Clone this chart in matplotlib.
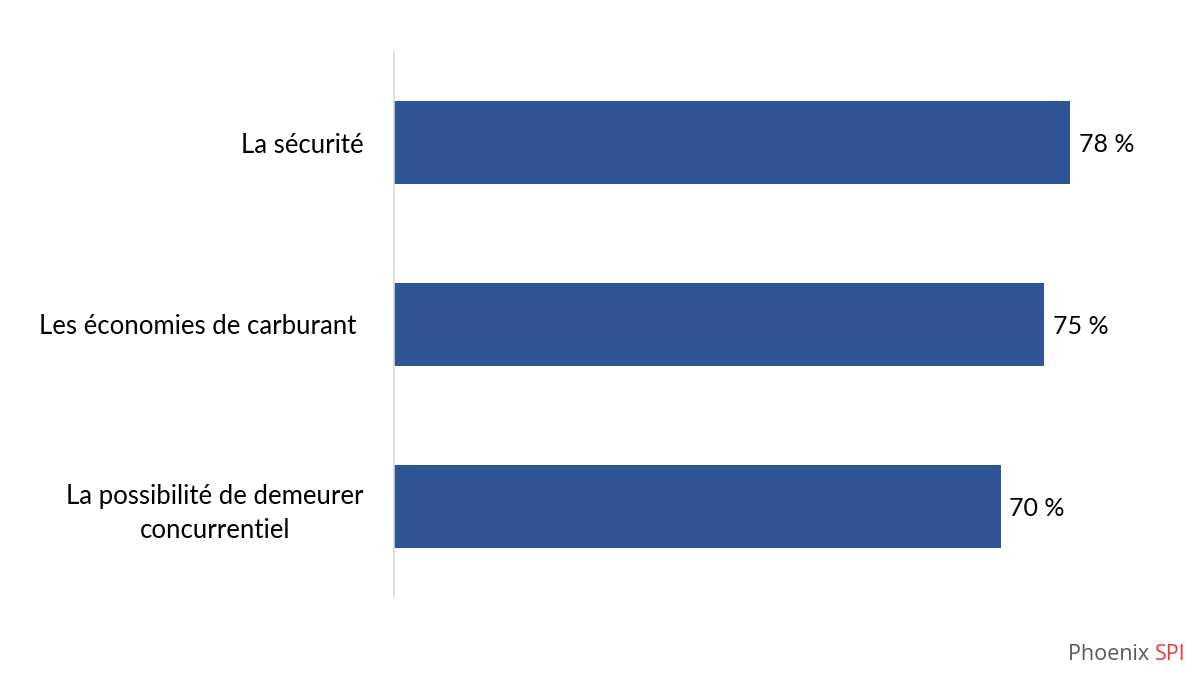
import matplotlib
matplotlib.use("Agg")
import matplotlib.pyplot as plt

# Data
categories = ["La sécurité", "Les économies de carburant ", "La possibilité de demeurer\nconcurrentiel"]
values = [78, 75, 70]
value_labels = ["78 %", "75 %", "70 %"]

plt.rcParams["font.family"] = ["Lato", "DejaVu Sans"]

fig = plt.figure(figsize=(12, 6.75), dpi=100)
ax = fig.add_axes([394 / 1200, 78 / 675, 806 / 1200, 545 / 675])

y = list(range(len(categories)))
bars = ax.barh(y, values, height=0.457, color="#2F5597", left=0)

ax.set_xlim(0, 806 / 8.665)
ax.set_ylim(2.5, -0.5)

for bar, lab in zip(bars, value_labels):
    ax.text(bar.get_width() + 1.0, bar.get_y() + bar.get_height() / 2, lab,
            va="center_baseline", ha="left", fontsize=18, color="black")

ax.set_yticks(y)
ax.set_yticklabels(categories, fontsize=18.5, multialignment="center", linespacing=1.45)
ax.tick_params(axis="y", length=0, pad=22)
ax.set_xticks([])

for s in ["top", "right", "bottom"]:
    ax.spines[s].set_visible(False)
ax.spines["left"].set_color("#D9D9D9")
ax.spines["left"].set_linewidth(1.2)

# Logo text
logo = fig.text(1068 / 1200, 1 - 655 / 675, "Phoenix ", ha="left", va="center",
                fontsize=15.5, color="#595959", family=["Open Sans", "DejaVu Sans"])
ax.annotate("SPI", xy=(1, 0.5), xycoords=logo, ha="left", va="center",
            fontsize=15.5, color="#E8383D", family=["Open Sans", "DejaVu Sans"],
            annotation_clip=False)

fig.savefig("out.png", dpi=100)
